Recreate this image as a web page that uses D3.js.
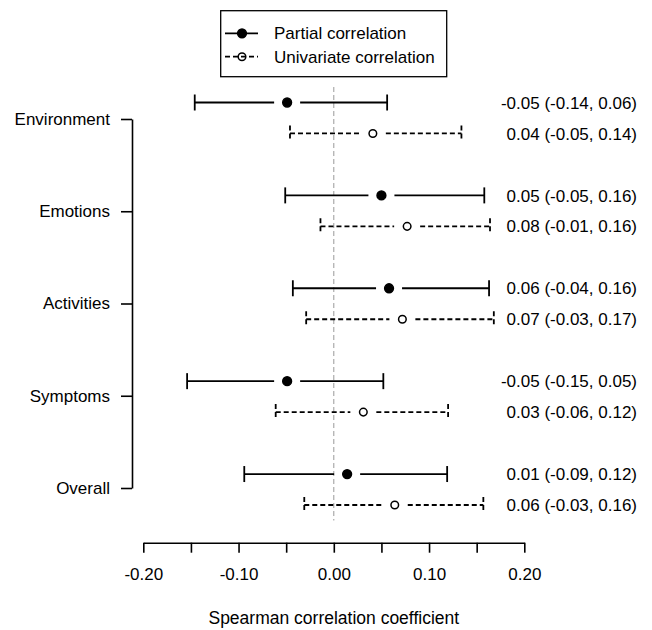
<!DOCTYPE html>
<html>
<head>
<meta charset="utf-8">
<script src="https://cdn.jsdelivr.net/npm/d3@7"></script>
<style>
  body { margin: 0; background: #fff; }
  svg text { font-family: "Liberation Sans", Arial, sans-serif; fill: #000; }
</style>
</head>
<body>
<div id="chart"></div>
<script>
// categories, top to bottom
var categories = ["Environment", "Emotions", "Activities", "Symptoms", "Overall"];

// partial correlation: estimate, lower, upper
var partialEst = [-0.049, 0.050, 0.058, -0.049, 0.014];
var partialLow = [-0.146, -0.051, -0.043, -0.154, -0.094];
var partialHigh = [0.056, 0.158, 0.163, 0.052, 0.119];

// univariate correlation
var univEst = [0.041, 0.077, 0.072, 0.031, 0.064];
var univLow = [-0.046, -0.014, -0.029, -0.061, -0.031];
var univHigh = [0.134, 0.164, 0.168, 0.120, 0.157];

// printed labels on the right
var partialLabels = ["-0.05 (-0.14, 0.06)", "0.05 (-0.05, 0.16)", "0.06 (-0.04, 0.16)", "-0.05 (-0.15, 0.05)", "0.01 (-0.09, 0.12)"];
var univLabels = ["0.04 (-0.05, 0.14)", "0.08 (-0.01, 0.16)", "0.07 (-0.03, 0.17)", "0.03 (-0.06, 0.12)", "0.06 (-0.03, 0.16)"];

var xTicks = [-0.20, -0.15, -0.10, -0.05, 0.00, 0.05, 0.10, 0.15, 0.20];
var xTickLabels = {"-0.2": "-0.20", "-0.1": "-0.10", "0": "0.00", "0.1": "0.10", "0.2": "0.20"};

(function () {
    var width = 652, height = 630;

    var svg = d3.select("#chart").append("svg")
        .attr("width", width)
        .attr("height", height);

    var x = d3.scaleLinear().domain([-0.2, 0.2]).range([143.3, 524.3]);
    // three row slots per category: partial, univariate, spacer
    var yRow = d3.scaleLinear().domain([0, 13]).range([102.5, 505]);
    var yCat = d3.scalePoint().domain(categories).range([119, 488]);

    var rows = [];
    categories.forEach(function (c, i) {
        rows.push({cat: c, type: "partial", est: partialEst[i], lo: partialLow[i], hi: partialHigh[i], label: partialLabels[i], slot: i * 3});
        rows.push({cat: c, type: "univ", est: univEst[i], lo: univLow[i], hi: univHigh[i], label: univLabels[i], slot: i * 3 + 1});
    });

    // zero reference line
    svg.append("line")
        .attr("x1", x(0)).attr("x2", x(0))
        .attr("y1", yRow(-0.5)).attr("y2", yRow(13.5))
        .attr("stroke", "#999")
        .attr("stroke-width", 1)
        .attr("stroke-dasharray", "5,3");

    // x axis
    var xAxis = svg.append("g")
        .attr("transform", "translate(0,542.7)")
        .call(d3.axisBottom(x)
            .tickValues(xTicks)
            .tickSize(10)
            .tickSizeOuter(0)
            .tickPadding(15)
            .tickFormat(function (d) { return xTickLabels[String(+d.toFixed(2))] || ""; }));
    xAxis.selectAll("path, line").attr("stroke", "#000").attr("stroke-width", 1.6);
    xAxis.selectAll("text").style("font-size", "17px");

    svg.append("text")
        .attr("x", x(0))
        .attr("y", 624)
        .attr("text-anchor", "middle")
        .style("font-size", "17.5px")
        .text("Spearman correlation coefficient");

    // y axis
    var yAxis = svg.append("g")
        .attr("transform", "translate(132,0)")
        .call(d3.axisLeft(yCat).tickSize(11).tickSizeOuter(0).tickPadding(11));
    yAxis.selectAll("path, line").attr("stroke", "#000").attr("stroke-width", 1.6);
    yAxis.selectAll("text").style("font-size", "17px");

    var gap = 13;
    var g = svg.selectAll(".row")
        .data(rows)
        .enter().append("g")
        .attr("class", "row")
        .attr("transform", function (d) { return "translate(0," + yRow(d.slot) + ")"; });

    function dash(d) { return d.type === "univ" ? "5,3" : null; }

    g.append("line")
        .attr("x1", function (d) { return x(d.lo); })
        .attr("x2", function (d) { return x(d.est) - gap; })
        .attr("stroke", "#000").attr("stroke-width", 1.8)
        .attr("stroke-dasharray", dash);
    g.append("line")
        .attr("x1", function (d) { return x(d.est) + gap; })
        .attr("x2", function (d) { return x(d.hi); })
        .attr("stroke", "#000").attr("stroke-width", 1.8)
        .attr("stroke-dasharray", dash);

    // caps
    ["lo", "hi"].forEach(function (k) {
        g.append("line")
            .attr("x1", function (d) { return x(d[k]); })
            .attr("x2", function (d) { return x(d[k]); })
            .attr("y1", -8).attr("y2", 8)
            .attr("stroke", "#000").attr("stroke-width", 1.8)
            .attr("stroke-dasharray", dash);
    });

    g.append("circle")
        .attr("cx", function (d) { return x(d.est); })
        .attr("r", function (d) { return d.type === "univ" ? 3.8 : 4.4; })
        .attr("fill", function (d) { return d.type === "univ" ? "#fff" : "#000"; })
        .attr("stroke", "#000")
        .attr("stroke-width", 1.5);

    g.append("text")
        .attr("x", 637)
        .attr("dy", "0.36em")
        .attr("text-anchor", "end")
        .style("font-size", "17px")
        .text(function (d) { return d.label; });

    // legend
    var leg = svg.append("g");
    leg.append("rect")
        .attr("x", 220.7).attr("y", 10.7)
        .attr("width", 226).attr("height", 66)
        .attr("fill", "#fff").attr("stroke", "#000").attr("stroke-width", 1.3);

    var legItems = [
        {name: "Partial correlation", type: "partial", y: 33.3},
        {name: "Univariate correlation", type: "univ", y: 56.7}
    ];
    var li = leg.selectAll(".li").data(legItems).enter().append("g")
        .attr("transform", function (d) { return "translate(0," + d.y + ")"; });
    li.append("line")
        .attr("x1", 225).attr("x2", 258)
        .attr("stroke", "#000").attr("stroke-width", 1.8)
        .attr("stroke-dasharray", function (d) { return d.type === "univ" ? "5,3" : null; });
    li.append("circle")
        .attr("cx", 242)
        .attr("r", function (d) { return d.type === "univ" ? 3.8 : 4.4; })
        .attr("fill", function (d) { return d.type === "univ" ? "none" : "#000"; })
        .attr("stroke", "#000").attr("stroke-width", 1.5);
    li.append("text")
        .attr("x", 274)
        .attr("dy", "0.36em")
        .style("font-size", "17px")
        .text(function (d) { return d.name; });
})();
</script>
</body>
</html>
